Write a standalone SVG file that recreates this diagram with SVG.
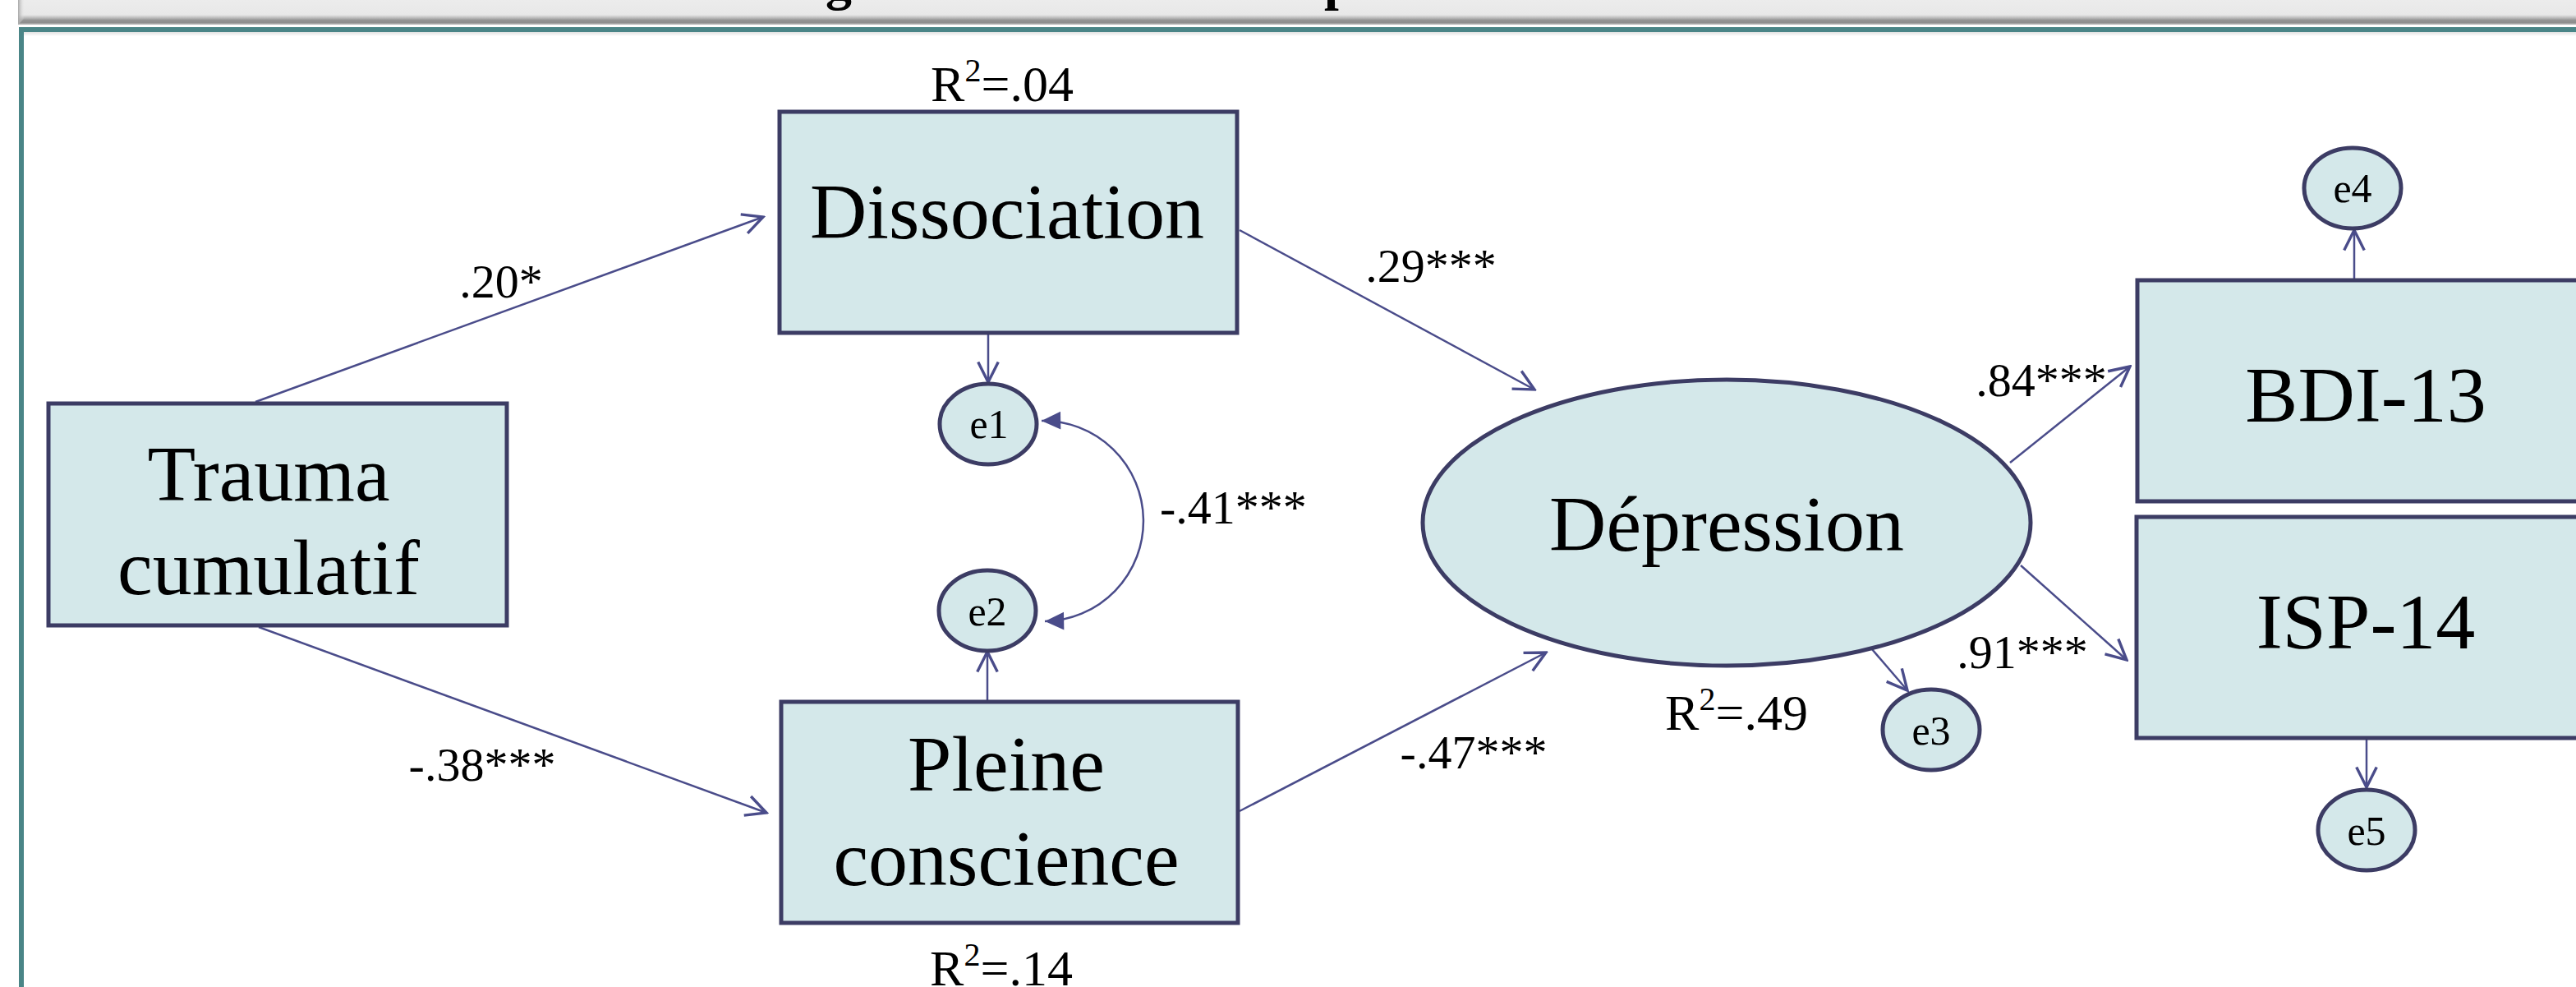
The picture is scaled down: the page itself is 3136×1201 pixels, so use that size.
<svg xmlns="http://www.w3.org/2000/svg" width="3136" height="1201" viewBox="0 0 3136 1201">
<defs>
<linearGradient id="barG" x1="0" y1="0" x2="0" y2="1">
<stop offset="0" stop-color="#ececec"/>
<stop offset="0.6" stop-color="#e8e8e8"/>
<stop offset="0.72" stop-color="#bdbdbd"/>
<stop offset="0.82" stop-color="#939393"/>
<stop offset="0.92" stop-color="#8e8e8e"/>
<stop offset="1" stop-color="#c4c4c4"/>
</linearGradient>
<linearGradient id="bevG" x1="0" y1="0" x2="1" y2="0">
<stop offset="0" stop-color="#a8a8a8"/>
<stop offset="1" stop-color="#ececec" stop-opacity="0"/>
</linearGradient>
<linearGradient id="shG" x1="0" y1="0" x2="0" y2="1">
<stop offset="0" stop-color="#e2e2e2"/>
<stop offset="1" stop-color="#ffffff"/>
</linearGradient>
<clipPath id="barClip"><rect x="22" y="0" width="3114" height="30"/></clipPath>
<marker id="open" markerUnits="userSpaceOnUse" markerWidth="30" markerHeight="30" viewBox="-20 -11 22 22" refX="0" refY="0" orient="auto">
<path d="M-18,-9 L0,0 L-18,9" fill="none" stroke="#4a4c8a" stroke-width="2.5"/>
</marker>
<marker id="fill" markerUnits="userSpaceOnUse" markerWidth="30" markerHeight="30" viewBox="-20 -11 22 22" refX="0" refY="0" orient="auto-start-reverse">
<path d="M-17,-8 L0,0 L-17,8 Z" fill="#4a4c8a"/>
</marker>
</defs>
<style>
.box{fill:#d4e8ea;stroke:#3c3c64;stroke-width:5}
.lbl{font-family:"Liberation Serif","Times New Roman",serif;fill:#000}
.big{font-size:96px;text-anchor:middle}
.sm{font-size:58px}
.r2{font-size:62px;text-anchor:middle}
.e{font-size:50px;text-anchor:middle}
.con{stroke:#4a4c8a;stroke-width:2.5;fill:none}
.ttl{font-family:"Liberation Serif","Times New Roman",serif;font-weight:bold;font-size:64px;fill:#000}
</style>
<rect width="3136" height="1201" fill="#ffffff"/>
<g id="frame">
<rect x="22" y="0" width="3114" height="30" fill="url(#barG)"/>
<polygon points="22,0 30,0 30,22 22,30" fill="url(#bevG)"/>
<g clip-path="url(#barClip)">
<text class="ttl" x="1005" y="-1">g</text>
<text class="ttl" x="1612" y="-1">p</text>
</g>
<rect x="23" y="33" width="3113" height="6" fill="#4a8587"/>
<rect x="29" y="39" width="3107" height="5" fill="url(#shG)"/>
<rect x="23" y="33" width="6" height="1168" fill="#4a8587"/>
</g>
<g id="connectors">
<line class="con" x1="311" y1="489" x2="929" y2="264" marker-end="url(#open)"/>
<line class="con" x1="315" y1="763" x2="933" y2="989" marker-end="url(#open)"/>
<line class="con" x1="1203" y1="407" x2="1203" y2="465" marker-end="url(#open)"/>
<line class="con" x1="1202" y1="852" x2="1202" y2="793" marker-end="url(#open)"/>
<line class="con" x1="1509" y1="280" x2="1868" y2="474" marker-end="url(#open)"/>
<line class="con" x1="1509" y1="987" x2="1882" y2="794" marker-end="url(#open)"/>
<line class="con" x1="2279" y1="790" x2="2322" y2="840" marker-end="url(#open)"/>
<line class="con" x1="2447" y1="563" x2="2593" y2="446" marker-end="url(#open)"/>
<line class="con" x1="2460" y1="688" x2="2589" y2="803" marker-end="url(#open)"/>
<line class="con" x1="2866" y1="339" x2="2866" y2="280" marker-end="url(#open)"/>
<line class="con" x1="2881" y1="899" x2="2881" y2="958" marker-end="url(#open)"/>
<path class="con" d="M1268,512 A122,122 0 0 1 1272,756" marker-start="url(#fill)" marker-end="url(#fill)"/>
<text class="lbl sm" x="610" y="362" text-anchor="middle">.20*</text>
<text class="lbl sm" x="587" y="950" text-anchor="middle">-.38***</text>
<text class="lbl sm" x="1742" y="343" text-anchor="middle">.29***</text>
<text class="lbl sm" x="1794" y="935" text-anchor="middle">-.47***</text>
<text class="lbl sm" x="1412" y="637">-.41***</text>
<text class="lbl sm" x="2485" y="482" text-anchor="middle">.84***</text>
<text class="lbl sm" x="2462" y="813" text-anchor="middle">.91***</text>
</g>
<g id="trauma">
<rect class="box" x="59" y="491" width="558" height="270"/>
<text class="lbl big" x="327" y="609">Trauma</text>
<text class="lbl big" x="327" y="723">cumulatif</text>
</g>
<g id="dissociation">
<rect class="box" x="949" y="136" width="557" height="269"/>
<text class="lbl big" x="1226" y="290">Dissociation</text>
<text class="lbl r2" x="1220" y="123">R<tspan font-size="40" dy="-24">2</tspan><tspan dy="24">=.04</tspan></text>
</g>
<g id="pleine">
<rect class="box" x="951" y="854" width="556" height="269"/>
<text class="lbl big" x="1225" y="962">Pleine</text>
<text class="lbl big" x="1225" y="1077">conscience</text>
<text class="lbl r2" x="1219" y="1199">R<tspan font-size="40" dy="-24">2</tspan><tspan dy="24">=.14</tspan></text>
</g>
<g id="depression">
<ellipse class="box" cx="2102" cy="636" rx="370" ry="174"/>
<text class="lbl big" x="2102" y="670">Dépression</text>
<text class="lbl r2" x="2114" y="888">R<tspan font-size="40" dy="-24">2</tspan><tspan dy="24">=.49</tspan></text>
</g>
<g id="bdi">
<rect class="box" x="2602" y="341" width="560" height="269"/>
<text class="lbl big" x="2880" y="513">BDI-13</text>
</g>
<g id="isp">
<rect class="box" x="2601" y="629" width="560" height="269"/>
<text class="lbl big" x="2880" y="789">ISP-14</text>
</g>
<g id="e1">
<ellipse class="box" cx="1203" cy="516" rx="59" ry="49"/>
<text class="lbl e" x="1204" y="533">e1</text>
</g>
<g id="e2">
<ellipse class="box" cx="1202" cy="743" rx="59" ry="49"/>
<text class="lbl e" x="1202" y="761">e2</text>
</g>
<g id="e3">
<ellipse class="box" cx="2351" cy="888" rx="59" ry="49"/>
<text class="lbl e" x="2351" y="906">e3</text>
</g>
<g id="e4">
<ellipse class="box" cx="2864" cy="229" rx="59" ry="49"/>
<text class="lbl e" x="2864" y="246">e4</text>
</g>
<g id="e5">
<ellipse class="box" cx="2881" cy="1010" rx="59" ry="49"/>
<text class="lbl e" x="2881" y="1028">e5</text>
</g>
</svg>
